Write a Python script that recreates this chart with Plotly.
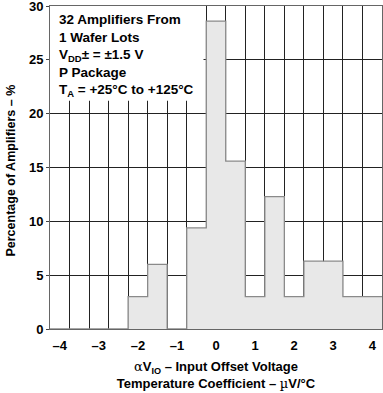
import numpy as np
import plotly.graph_objects as go

# Bin centers (µV/°C) and percentage of amplifiers
bin_centers = [-4.0, -3.5, -3.0, -2.5, -2.0, -1.5, -1.0, -0.5, 0.0, 0.5,
               1.0, 1.5, 2.0, 2.5, 3.0, 3.5, 4.0]
percentages = [0.0, 0.0, 0.0, 0.0, 3.0, 6.0, 0.0, 9.4, 28.6, 15.6,
               3.0, 12.3, 3.0, 6.3, 6.3, 3.0, 3.0]
bin_width = 0.5

x_ticks = [-4, -3, -2, -1, 0, 1, 2, 3, 4]
x_tick_text = ["–4", "–3", "–2", "–1", "0", "1", "2", "3", "4"]
y_ticks = [0, 5, 10, 15, 20, 25, 30]

centers = np.array(bin_centers)
vals = np.array(percentages)
edges = np.concatenate([centers - bin_width / 2, [centers[-1] + bin_width / 2]])
step_y = np.concatenate([vals, [vals[-1]]])

FONT = "Liberation Sans, Arial, Helvetica, sans-serif"
SYM = "DejaVu Serif, Liberation Serif, serif"

fig = go.Figure()
fig.add_trace(go.Scatter(
    x=edges, y=step_y, mode="lines", line_shape="hv",
    line=dict(color="#8a8a8a", width=1.3),
    fill="tozeroy", fillcolor="#e8e8e8",
    hoverinfo="skip", showlegend=False,
))

# white box behind the conditions text
fig.add_shape(type="rect", xref="x", yref="y",
              x0=edges[0], x1=-0.32, y0=21.2, y1=30,
              fillcolor="white", line_width=0, layer="between")

fig.add_annotation(
    xref="paper", yref="paper", x=0.022, y=0.988,
    xanchor="left", yanchor="top", align="left", showarrow=False,
    text=("32 Amplifiers From<br>1 Wafer Lots<br>"
          "V<sub>DD</sub>± = ±1.5 V<br>P Package<br>"
          "T<sub>A</sub> = +25°C to +125°C"),
    font=dict(family=FONT, size=13.5, color="black", weight="bold"),
)

# y-axis title placed as rotated text
fig.add_annotation(
    xref="paper", yref="paper", x=-0.118, y=0.49,
    xanchor="center", yanchor="middle", textangle=-90, showarrow=False,
    text="Percentage of Amplifiers – %",
    font=dict(family=FONT, size=12.5, color="black", weight="bold"),
)

fig.update_layout(
    width=383, height=393,
    margin=dict(l=50, r=1, t=6, b=64),
    paper_bgcolor="white", plot_bgcolor="white",
    font=dict(family=FONT, size=13, color="black", weight="bold"),
    xaxis=dict(
        range=[edges[0], edges[-1]], automargin=False,
        tickmode="array", tickvals=x_ticks, ticktext=x_tick_text,
        showgrid=False, zeroline=False,
        showline=True, linecolor="#666", linewidth=1, mirror=True,
        ticks="", ticklabelstandoff=4, ticklabeloverflow="allow",
        tickfont=dict(family=FONT, size=13, color="black", weight="bold"),
        minor=dict(tickmode="array", tickvals=list(edges), showgrid=True,
                   gridcolor="#222", gridwidth=1, ticks=""),
        title=dict(
            text=(f"<span style='font-family:{SYM};font-weight:normal'>α</span>V<sub>IO</sub> – Input Offset Voltage<br>"
                  f"Temperature Coefficient – <span style='font-family:{SYM};font-weight:normal'>µ</span>V/°C"),
            font=dict(family=FONT, size=13, color="black", weight="bold"),
            standoff=10,
        ),
    ),
    yaxis=dict(
        range=[0, 30], automargin=False,
        tickmode="array", tickvals=y_ticks,
        showgrid=True, gridcolor="#222", gridwidth=1, zeroline=False,
        showline=True, linecolor="#666", linewidth=1, mirror=True,
        ticks="outside", ticklen=3, tickcolor="#444", ticklabeloverflow="allow",
        tickfont=dict(family=FONT, size=13, color="black", weight="bold"),
    ),
)

fig.write_html(
    "out.html",
    config={"displayModeBar": False},
    post_script="document.body.style.margin='0';document.body.style.overflow='hidden';",
)
